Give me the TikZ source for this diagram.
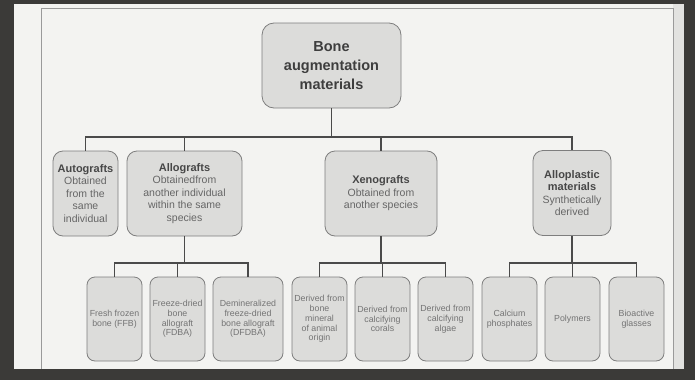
\documentclass[tikz,border=0pt]{standalone}
\usepackage{fontspec}
\setmainfont{Liberation Sans}
\definecolor{outer}{HTML}{3B3A38}
\definecolor{page}{HTML}{F3F3F1}
\definecolor{pagedark}{HTML}{E2E2E0}
\definecolor{framecol}{HTML}{9A9A9A}
\definecolor{boxfill}{HTML}{DCDCDA}
\definecolor{boxline}{HTML}{7E7E7E}
\definecolor{linkcol}{HTML}{4A4A4A}
\definecolor{rootcol}{HTML}{3E3E3E}
\definecolor{headcol}{HTML}{474747}
\definecolor{bodycol}{HTML}{666666}
\definecolor{smallcol}{HTML}{747474}
\tikzset{
  basebox/.style={draw=boxline, fill=boxfill, line width=0.8pt, inner sep=0pt, align=center},
  rootbox/.style={basebox, rounded corners=12pt, minimum width=139pt, minimum height=85pt,
    font=\fontsize{14.5}{19}\selectfont\bfseries, text=rootcol},
  midbox/.style={basebox, rounded corners=10pt, minimum width=#1, minimum height=85pt,
    font=\fontsize{10.5}{12.5}\selectfont, text=bodycol},
  leafbox/.style={basebox, rounded corners=8pt, minimum width=#1, minimum height=84pt,
    font=\fontsize{8.8}{9.8}\selectfont, text=smallcol},
  link/.style={draw=linkcol, line width=1.6pt},
}
\newcommand{\hd}[1]{\textcolor{headcol}{\fontsize{11}{12.5}\selectfont\bfseries #1}}
\begin{document}
\begin{tikzpicture}[x=1pt,y=-1pt]
\useasboundingbox (0,0) rectangle (695,380);
% page photo background
\fill[outer] (0,0) rectangle (695,380);
\fill[page] (14,4) rectangle (684,369);
\fill[pagedark] (673,4) rectangle (684,369);
\draw[framecol, line width=0.9pt] (41,369) -- (41,8) -- (673,8) -- (673,369);
% root
\node[rootbox] (root) at (331.5,65.5) {Bone\\augmentation\\materials};
% level 2
\node[midbox=65pt] (auto) at (85.5,193.5) {\hd{Autografts}\\Obtained\\from the\\same\\individual};
\node[midbox=115pt] (allo) at (184.5,193.5) {\hd{Allografts}\\Obtainedfrom\\another individual\\within the same\\species};
\node[midbox=112pt] (xeno) at (381,193.5) {\hd{Xenografts}\\Obtained from\\another species};
\node[midbox=78pt] (plast) at (572,193) {\hd{Alloplastic}\\\hd{materials}\\Synthetically\\derived};
% level 3
\node[leafbox=55pt] (ffb) at (114.5,319) {Fresh frozen\\bone (FFB)};
\node[leafbox=55pt] (fdba) at (177.5,319) {Freeze-dried\\bone\\allograft\\(FDBA)};
\node[leafbox=70pt] (dfdba) at (248,319) {Demineralized\\freeze-dried\\bone allograft\\(DFDBA)};
\node[leafbox=55pt] (bonemin) at (319.5,319) {Derived from\\bone\\mineral\\of animal\\origin};
\node[leafbox=55pt] (corals) at (382.5,319) {Derived from\\calcifying\\corals};
\node[leafbox=55pt] (algae) at (445.5,319) {Derived from\\calcifying\\algae};
\node[leafbox=55pt] (calc) at (509.5,319) {Calcium\\phosphates};
\node[leafbox=55pt] (poly) at (572.5,319) {Polymers};
\node[leafbox=55pt] (bio) at (636.5,319) {Bioactive\\glasses};
% bus coordinates
\coordinate (busA) at (331.5,137);
\coordinate (busB) at (184.5,263);
\coordinate (busC) at (381,263);
\coordinate (busD) at (572,263);
% level 1 connectors
\draw[link] (root.south) -- (busA);
\draw[link] (auto.north) -- (auto.north |- busA) -- (plast.north |- busA) -- (plast.north);
\draw[link] (allo.north) -- (allo.north |- busA);
\draw[link] (xeno.north) -- (xeno.north |- busA);
% allografts
\draw[link] (allo.south) -- (busB);
\draw[link] (ffb.north) -- (ffb.north |- busB) -- (dfdba.north |- busB) -- (dfdba.north);
\draw[link] (fdba.north) -- (fdba.north |- busB);
% xenografts
\draw[link] (xeno.south) -- (busC);
\draw[link] (bonemin.north) -- (bonemin.north |- busC) -- (algae.north |- busC) -- (algae.north);
\draw[link] (corals.north) -- (corals.north |- busC);
% alloplastic
\draw[link] (plast.south) -- (busD);
\draw[link] (calc.north) -- (calc.north |- busD) -- (bio.north |- busD) -- (bio.north);
\draw[link] (poly.north) -- (poly.north |- busD);
\end{tikzpicture}
\end{document}
